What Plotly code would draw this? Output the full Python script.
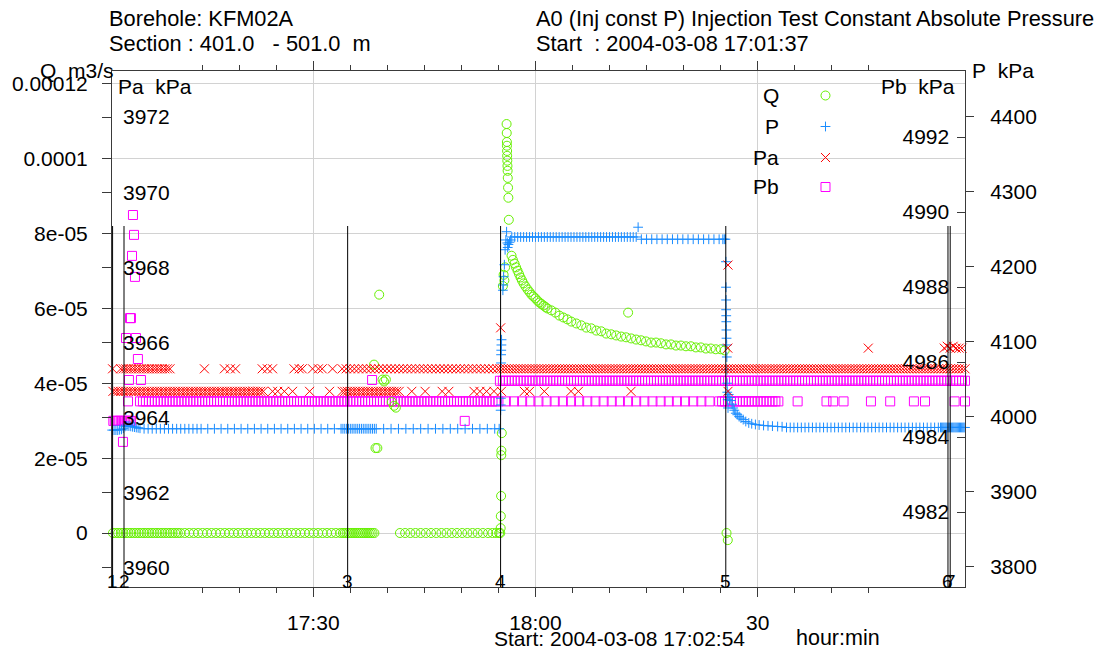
import plotly.graph_objects as go

# ------------------------------------------------------------------
# Data  (time = minutes after 17:00, 2004-03-08)
# ------------------------------------------------------------------
EVENT_TIMES = [2.9, 4.44, 34.64, 55.29, 85.7, 115.7, 116.0]
EVENT_NAMES = ["1", "2", "3", "4", "5", "6", "7"]

X_TICK_VALUES = [30, 60, 90]
X_TICK_TEXT = ["17:30", "18:00", "30"]
Q_TICK_VALUES = [0, 2e-5, 4e-5, 6e-5, 8e-5, 1e-4, 1.2e-4]
Q_TICK_TEXT = ["0", "2e-05", "4e-05", "6e-05", "8e-05", "0.0001", "0.00012"]
PA_TICK_VALUES = [3960, 3962, 3964, 3966, 3968, 3970, 3972]
PB_TICK_VALUES = [4982, 4984, 4986, 4988, 4990, 4992]
P_TICK_VALUES = [3800, 3900, 4000, 4100, 4200, 4300, 4400]

# shared sample times after start of period 4 (dense bands)
samples_after_4 = [55.2, 55.6, 56.0, 56.4, 56.8, 57.2, 57.6, 58.0, 58.4, 58.8, 59.2, 59.6, 60.0, 60.4, 60.8,
                   61.2, 61.6, 62.0, 62.4, 62.8, 63.2, 63.6, 64.0, 64.4, 64.8, 65.2, 65.6, 66.0, 66.4, 66.8,
                   67.2, 67.6, 68.0, 68.4, 68.8, 69.2, 69.6, 70.0, 70.4, 70.8, 71.2, 71.6, 72.0, 72.4, 72.8,
                   73.2, 73.6, 74.0, 74.4, 74.8, 75.2, 75.6, 76.0, 76.4, 76.8, 77.2, 77.6, 78.0, 78.4, 78.8,
                   79.2, 79.6, 80.0, 80.4, 80.8, 81.2, 81.6, 82.0, 82.4, 82.8, 83.2, 83.6, 84.0, 84.4, 84.8,
                   85.2, 85.6, 86.0, 86.4, 86.8, 87.2, 87.6, 88.0, 88.4, 88.8, 89.2, 89.6, 90.0, 90.4, 90.8,
                   91.2, 91.6, 92.0, 92.4, 92.8, 93.2, 93.6, 94.0, 94.4, 94.8, 95.2, 95.6, 96.0, 96.4, 96.8,
                   97.2, 97.6, 98.0, 98.4, 98.8, 99.2, 99.6, 100.0, 100.4, 100.8, 101.2, 101.6, 102.0, 102.4,
                   102.8, 103.2, 103.6, 104.0, 104.4, 104.8, 105.2, 105.6, 106.0, 106.4, 106.8, 107.2, 107.6,
                   108.0, 108.4, 108.8, 109.2, 109.6, 110.0, 110.4, 110.8, 111.2, 111.6, 112.0, 112.4, 112.8,
                   113.2, 113.6, 114.0, 114.4, 114.8, 115.2, 115.6, 116.0, 116.4, 116.8, 117.2, 117.6, 118.0]

# ---- Q (m3/s) ----
Q_ZERO = 0.0
q_zero_times = [2.6, 2.95, 3.3, 3.65, 4.0, 4.35, 4.7, 5.05, 5.4, 5.75, 6.1, 6.45, 6.8, 7.15, 7.5, 7.85, 8.2,
                8.55, 8.9, 9.25, 9.6, 9.95, 10.3, 10.65, 11.0, 11.35, 11.7, 12.05, 12.65, 13.25, 13.85, 14.45,
                15.05, 15.65, 16.25, 16.85, 17.45, 18.05, 18.65, 19.25, 19.85, 20.45, 21.05, 21.65, 22.25,
                22.85, 23.45, 24.05, 24.65, 25.25, 25.85, 26.45, 27.05, 27.65, 28.25, 28.85, 29.45, 30.05,
                30.65, 31.25, 31.85, 32.45, 33.05, 33.65, 34.0, 34.25, 34.5, 34.75, 35.0, 35.25, 35.5, 35.75,
                36.0, 36.25, 36.5, 36.75, 37.0, 37.25, 37.5, 37.75, 38.0, 38.25, 41.7, 42.4, 43.1, 43.8, 44.5,
                45.2, 45.9, 46.6, 47.3, 48.0, 48.7, 49.4, 50.1, 50.8, 51.5, 52.2, 52.9, 53.6, 54.2, 54.7, 55.1,
                55.25, 85.8]
q_event3_t = [38.2, 38.9, 39.35, 39.55, 39.8, 40.6, 40.9, 41.15, 38.4, 38.65]
q_event3_v = [4.5e-5, 6.37e-5, 4.1e-5, 4.05e-5, 4.1e-5, 3.5e-5, 3.4e-5, 3.35e-5, 2.27e-5, 2.27e-5]
q_event4_t = [55.30, 55.32, 55.36, 55.38, 55.40, 55.45, 55.6, 55.7, 55.8, 55.9,
              56.10, 56.12, 56.14, 56.15, 56.17, 56.18, 56.20, 56.22, 56.24, 56.26, 56.30, 56.34, 56.40]
q_event4_v = [1.3e-6, 4.5e-6, 9.9e-6, 2.08e-5, 2.2e-5, 2.67e-5, 6.6e-5, 6.9e-5, 6.75e-5, 7.1e-5,
              1.093e-4, 1.069e-4, 1.045e-4, 1.035e-4, 1.021e-4, 1.008e-4, 9.95e-5, 9.81e-5, 9.68e-5,
              9.49e-5, 9.23e-5, 8.96e-5, 8.37e-5]
q_decay_t = [56.77, 56.95, 57.18, 57.38, 57.58, 57.78, 57.98, 58.18, 58.39, 58.65, 58.93, 59.2, 59.46, 59.73,
             60.0, 60.27, 60.54, 60.81, 61.08, 61.35, 61.62, 62.15, 62.69, 63.23, 63.77, 64.31, 64.84, 65.52,
             66.19, 66.86, 67.54, 68.21, 68.88, 69.55, 70.23, 70.9, 71.57, 72.24, 72.92, 73.59, 74.26, 74.93,
             75.61, 76.28, 76.95, 77.63, 78.3, 78.97, 79.64, 80.32, 80.99, 81.66, 82.33, 83.01, 83.68, 84.35,
             85.03, 85.56]
q_decay_v = [7.41e-5, 7.3e-5, 7.2e-5, 7.1e-5, 7.01e-5, 6.92e-5, 6.83e-5, 6.75e-5, 6.67e-5, 6.59e-5, 6.51e-5,
             6.44e-5, 6.37e-5, 6.32e-5, 6.27e-5, 6.21e-5, 6.16e-5, 6.12e-5, 6.08e-5, 6.04e-5, 6.0e-5, 5.95e-5,
             5.89e-5, 5.81e-5, 5.76e-5, 5.71e-5, 5.65e-5, 5.6e-5, 5.55e-5, 5.49e-5, 5.47e-5, 5.41e-5, 5.39e-5,
             5.33e-5, 5.31e-5, 5.28e-5, 5.25e-5, 5.23e-5, 5.2e-5, 5.17e-5, 5.15e-5, 5.12e-5, 5.09e-5, 5.09e-5,
             5.07e-5, 5.04e-5, 5.04e-5, 5.01e-5, 5.01e-5, 4.99e-5, 4.99e-5, 4.96e-5, 4.96e-5, 4.93e-5,
             4.93e-5, 4.91e-5, 4.91e-5, 4.88e-5]
q_other_t = [72.51, 85.97]
q_other_v = [5.89e-5, -1.9e-6]

# ---- P (kPa) ----
p_early_t = [2.6, 2.85, 3.1, 3.35, 3.6, 3.85, 4.1, 4.35, 4.6, 4.85, 5.1, 5.35, 5.6, 5.85, 6.1, 6.35, 6.6]
p_early_v = [3982.5, 3982.5, 3982.5, 3982.5, 3982.5, 3983, 3983.5, 3985, 3987.5, 3988, 3988, 3987.5, 3987,
             3986.5, 3986, 3985.5, 3985]
P_BASE_BEFORE = 3984.3
p_base_before_t = [7.15, 7.7, 8.25, 8.8, 9.35, 9.9, 10.45, 11.0, 11.55, 12.1, 12.65, 13.2, 13.75, 14.3, 14.85,
                   15.75, 16.65, 17.55, 18.45, 19.35, 20.25, 21.15, 22.05, 22.95, 23.85, 24.75, 25.65, 26.55,
                   27.45, 28.35, 29.25, 30.15, 31.05, 31.95, 32.85, 33.75, 34.0, 34.25, 34.5, 34.75, 35.0,
                   35.25, 35.5, 35.75, 36.0, 36.25, 36.5, 36.75, 37.0, 37.25, 37.5, 37.75, 38.0, 38.25, 38.5,
                   39.5, 40.5, 41.5, 42.5, 43.5, 44.5, 45.5, 46.5, 47.5, 48.5, 49.5, 50.5, 51.5, 52.5, 53.5,
                   54.5, 55.1]
p_rise_t = [55.30, 55.31, 55.33, 55.35, 55.36, 55.38, 55.40, 55.42, 55.60, 55.65, 55.70, 55.80, 55.90, 56.00,
            56.10, 56.20, 56.25, 56.35, 56.50, 56.65]
p_rise_v = [4009, 4016, 4025, 4072, 4083, 4089, 4096, 4103, 4169, 4176, 4187, 4203, 4223, 4236, 4247, 4232,
            4226, 4230, 4233, 4236]
P_PLATEAU_1 = 4240
p_plateau_1_t = [56.8, 57.2, 57.6, 58.0, 58.4, 58.8, 59.2, 59.6, 60.0, 60.4, 60.8, 61.2, 61.6, 62.0, 62.4,
                 62.8, 63.2, 63.6, 64.0, 64.4, 64.8, 65.2, 65.6, 66.0, 66.4, 66.8, 67.2, 67.6, 68.0, 68.4,
                 68.8, 69.2, 69.6, 70.0, 70.4, 70.8, 71.2, 71.6, 72.0, 72.4, 72.8, 73.2, 73.6]
P_PLATEAU_2 = 4237
p_plateau_2_t = [74.3, 75.0, 75.7, 76.4, 77.1, 77.8, 78.5, 79.2, 79.9, 80.6, 81.3, 82.0, 82.7, 83.4, 84.1,
                 84.8, 85.3, 85.5, 85.65]
p_fall_t = [73.86, 85.72, 85.73, 85.74, 85.75, 85.76, 85.77, 85.78, 85.80, 85.82, 85.84, 85.86, 85.88, 85.90,
            85.95, 86.0, 86.1, 86.25, 86.4, 86.55, 86.7, 86.85, 87.05, 87.25, 87.5, 87.75, 88.05, 88.4, 88.8,
            89.2, 89.7, 90.2, 90.8, 91.4, 92.0, 92.7, 93.3]
p_fall_v = [4253, 4207, 4173, 4156, 4143, 4135, 4127, 4116, 4105, 4096, 4080, 4063, 4045, 4033, 4023, 4012,
            4030, 4026, 4022, 4017, 4012, 4009, 4005, 4003, 4000.5, 3998.5, 3996.5, 3994, 3992, 3991, 3990,
            3989.3, 3988.7, 3988.2, 3987.8, 3987.3, 3987]
P_BASE_AFTER = 3986
p_base_after_t = [93.9, 94.4, 94.9, 95.4, 95.9, 96.4, 96.9, 97.4, 97.9, 98.4, 98.9, 99.4, 99.9, 100.4, 100.9,
                  101.4, 101.9, 102.4, 102.9, 103.4, 103.9, 104.4, 104.9, 105.4, 105.9, 106.4, 106.9, 107.4,
                  107.9, 108.4, 108.9, 109.4, 109.9, 110.4, 110.9, 111.4, 111.9, 112.4, 112.9, 113.4, 113.9,
                  114.4, 114.7, 114.85, 115.0, 115.15, 115.3, 115.45, 115.6, 115.75, 115.9, 116.05, 116.2,
                  116.35, 116.5, 116.65, 116.8, 116.95, 117.1, 117.25, 117.4, 117.55, 117.7, 117.85, 118.0]

# ---- Pa (kPa) ----
PA_HIGH = 3965.3
pa_high_t = [2.9, 4.0, 4.35, 4.7, 5.05, 5.4, 5.75, 6.1, 6.45, 6.8, 7.15, 7.5, 7.85, 8.2, 8.55, 8.9, 9.25,
             9.6, 9.95, 10.3, 10.65, 15.3, 18.0, 18.8, 19.5, 23.1, 23.8, 24.5, 27.4, 28.1, 28.5, 29.9, 30.7,
             31.2, 32.6, 33.9, 34.45, 35.0, 35.55, 36.1, 36.65, 37.2, 37.75, 38.3, 38.85, 39.4, 39.95, 40.5,
             41.05, 41.6, 42.15, 42.7, 43.25, 43.8, 44.35, 44.9, 45.45, 46.0, 46.55, 47.1, 47.65, 48.2,
             48.75, 49.3, 49.85, 50.4, 50.95, 51.5, 52.05, 52.6, 53.15, 53.7, 54.25, 54.8]
PA_LOW = 3964.7
pa_low_t = [2.6, 2.95, 3.3, 3.65, 4.0, 4.35, 4.7, 5.05, 5.4, 5.75, 6.1, 6.45, 6.8, 7.15, 7.5, 7.85, 8.2, 8.55,
            8.9, 9.25, 9.6, 9.95, 10.3, 10.65, 11.0, 11.35, 11.7, 12.05, 12.4, 12.75, 13.1, 13.45, 13.8,
            14.15, 14.5, 14.85, 15.2, 15.55, 15.9, 16.25, 16.6, 16.95, 17.3, 17.65, 18.0, 18.35, 18.7, 19.05,
            19.4, 19.75, 20.1, 20.45, 20.8, 21.15, 21.5, 21.85, 22.2, 22.55, 22.9, 23.25, 24.5, 25.2, 26.1,
            27.2, 29.5, 32.2, 33.9, 34.25, 34.6, 34.95, 35.3, 35.65, 36.0, 36.35, 36.7, 37.05, 37.4, 37.75,
            38.1, 38.45, 38.8, 39.15, 39.5, 39.85, 40.2, 40.55, 40.9, 41.25, 41.6, 43.3, 45.1, 47.4, 48.3,
            51.7, 52.5, 53.4, 54.4, 55.4, 58.5, 59.2, 61.2, 64.8, 65.8, 72.9, 86.0]
pa_other_t = [55.3, 85.97, 86.0, 104.94, 115.2, 115.6, 116.0, 116.4, 116.8, 117.2, 117.6]
pa_other_v = [3966.39, 3965.85, 3968.06, 3965.85, 3965.85, 3965.9, 3965.85, 3965.9, 3965.85, 3965.85, 3965.85]

# ---- Pb (kPa) ----
PB_LOWER = 4984.95
pb_lower_t = [4.98, 6.6, 7.0, 7.4, 7.8, 8.2, 8.6, 9.0, 9.4, 9.8, 10.2, 10.6, 11.0, 11.4, 11.8, 12.2, 12.6,
              13.0, 13.4, 13.8, 14.2, 14.6, 15.0, 15.4, 15.8, 16.2, 16.6, 17.0, 17.4, 17.8, 18.2, 18.6, 19.0,
              19.4, 19.8, 20.2, 20.6, 21.0, 21.4, 21.8, 22.2, 22.6, 23.0, 23.4, 23.8, 24.2, 24.6, 25.0, 25.4,
              25.8, 26.2, 26.6, 27.0, 27.4, 27.8, 28.2, 28.6, 29.0, 29.4, 29.8, 30.2, 30.6, 31.0, 31.4, 31.8,
              32.2, 32.6, 33.0, 33.4, 33.8, 34.2, 34.6, 35.0, 35.4, 35.8, 36.2, 36.6, 37.0, 37.4, 37.8, 38.2,
              38.6, 39.0, 39.4, 39.8, 40.2, 40.6, 41.0, 41.4, 41.8, 42.2, 42.6, 43.0, 43.4, 43.8, 44.2, 44.6,
              45.0, 45.4, 45.8, 46.2, 46.6, 47.0, 47.4, 47.8, 48.2, 48.6, 49.0, 49.4, 49.8, 50.2, 50.6, 51.0,
              51.4, 51.8, 52.2, 52.6, 53.0, 53.4, 53.8, 54.2, 54.6, 55.0, 56.0, 57.1, 58.2, 59.3, 60.4, 61.5,
              62.6, 63.7, 64.8, 65.9, 67.0, 68.1, 69.2, 70.3, 71.4, 72.5, 73.6, 74.7, 75.8, 76.9, 78.0, 79.1,
              80.2, 81.3, 82.4, 83.5, 84.8, 85.2, 85.6, 86.0, 86.4, 86.8, 87.2, 87.6, 88.0, 88.4, 88.8, 89.2,
              89.6, 90.0, 90.4, 90.8, 91.2, 91.6, 92.0, 92.4, 92.8, 95.4, 99.3, 100.2, 101.6, 105.3, 107.9,
              111.1, 112.6, 116.6, 118.0]
PB_UPPER = 4985.5
PB_START = 4984.43
pb_start_t = [2.6, 2.8, 3.0, 3.2, 3.4, 3.6, 3.8, 4.0, 4.2, 4.4, 4.6, 4.8, 5.0, 5.2, 5.4, 50.45]
pb_other_t = [5.65, 5.79, 5.52, 5.92, 5.38, 5.25, 4.71, 6.05, 6.32, 5.11, 6.73, 4.30, 37.94]
pb_other_v = [4989.92, 4989.39, 4988.83, 4988.27, 4987.17, 4987.17, 4986.64, 4986.64, 4986.08, 4985.52,
              4985.52, 4983.87, 4985.52]

# ------------------------------------------------------------------
# Layout constants
# ------------------------------------------------------------------
FONT = "Liberation Sans, Arial, Helvetica, sans-serif"
FS = 21
FS_TEXT = 21.8
AXIS = "#3a3a3a"
GRID = "#d2d2d2"
C_Q, C_P, C_PA, C_PB = "#66f000", "#1a8cff", "#ff0000", "#ff00ff"

L, R, T, B = 109, 134, 71, 70
WIDTH, HEIGHT = 1099, 657
PW, PH = WIDTH - L - R, HEIGHT - T - B

X_RANGE = [2.82, 118.0]
Q_RANGE = [-1.443e-5, 1.2347e-4]
PA_RANGE = [3959.494, 3973.224]
PB_RANGE = [4980.0, 4993.76]
P_RANGE = [3773.3, 4461.3]


def px_x(px):
    return (px - L) / PW


def px_y(py):
    return (T + PH - py) / PH


def data_x(px):
    return X_RANGE[0] + px_x(px) * (X_RANGE[1] - X_RANGE[0])


def data_y(py, rng):
    return rng[0] + px_y(py) * (rng[1] - rng[0])


def build(flat, explicit):
    xs, ys = [], []
    for level, times in flat:
        xs += list(times)
        ys += [level] * len(times)
    for times, vals in explicit:
        xs += list(times)
        ys += list(vals)
    return xs, ys


def mk(symbol, size, color):
    return dict(symbol=symbol, size=size, color=color, line=dict(width=1, color=color))


q_x, q_y = build([(Q_ZERO, q_zero_times)],
                 [(q_event3_t, q_event3_v), (q_event4_t, q_event4_v), (q_decay_t, q_decay_v),
                  (q_other_t, q_other_v)])
p_x, p_y = build([(P_BASE_BEFORE, p_base_before_t), (P_PLATEAU_1, p_plateau_1_t),
                  (P_PLATEAU_2, p_plateau_2_t), (P_BASE_AFTER, p_base_after_t)],
                 [(p_early_t, p_early_v), (p_rise_t, p_rise_v), (p_fall_t, p_fall_v)])
pa_x, pa_y = build([(PA_HIGH, pa_high_t), (PA_HIGH, samples_after_4), (PA_LOW, pa_low_t)],
                   [(pa_other_t, pa_other_v)])
pb_x, pb_y = build([(PB_LOWER, pb_lower_t), (PB_UPPER, samples_after_4), (PB_START, pb_start_t)],
                   [(pb_other_t, pb_other_v)])

M_Q = mk("circle-open", 9, C_Q)
M_P = mk("cross-thin-open", 7, C_P)
M_PA = mk("x-thin-open", 9, C_PA)
M_PB = mk("square-open", 9, C_PB)

fig = go.Figure()
# drawing order: Pb (y), Q (y2), P (y3), Pa (y4)
fig.add_trace(go.Scatter(x=pb_x, y=pb_y, mode="markers", marker=M_PB, yaxis="y", name="Pb",
                         cliponaxis=False, hoverinfo="skip"))
fig.add_trace(go.Scatter(x=q_x, y=q_y, mode="markers", marker=M_Q, yaxis="y2", name="Q",
                         cliponaxis=False, hoverinfo="skip"))
fig.add_trace(go.Scatter(x=p_x, y=p_y, mode="markers", marker=M_P, yaxis="y3", name="P",
                         cliponaxis=False, hoverinfo="skip"))
fig.add_trace(go.Scatter(x=pa_x, y=pa_y, mode="markers", marker=M_PA, yaxis="y4", name="Pa",
                         cliponaxis=False, hoverinfo="skip"))

# custom legend (text left, symbol right)
LEGEND_NAMES = ["Q", "P", "Pa", "Pb"]
LEGEND_ROWS = [95.5, 126.5, 157.5, 187.0]
LEGEND_TEXT_RIGHT = 779
LEGEND_SYMBOL_X = 825
legend_specs = [(M_Q, "y2", Q_RANGE), (M_P, "y3", P_RANGE), (M_PA, "y4", PA_RANGE), (M_PB, "y", PB_RANGE)]
for (marker, yax, rng), row in zip(legend_specs, LEGEND_ROWS):
    fig.add_trace(go.Scatter(x=[data_x(LEGEND_SYMBOL_X)], y=[data_y(row, rng)], mode="markers",
                             marker=marker, yaxis=yax, showlegend=False, hoverinfo="skip",
                             cliponaxis=False))

shapes = [dict(type="rect", xref="paper", yref="paper", x0=px_x(755), x1=px_x(871),
               y0=px_y(203), y1=px_y(77), fillcolor="white", line=dict(width=0), layer="between")]
for t in EVENT_TIMES:
    shapes.append(dict(type="line", xref="x", yref="paper", x0=t, x1=t, y0=0, y1=px_y(226),
                       line=dict(color="black", width=1), layer="above"))

annotations = []


def text(s, px, py, anchor="left", size=FS_TEXT):
    # small correction for the annotation's inner padding
    px = px - 5 if anchor == "left" else px + 1
    annotations.append(dict(text=s, xref="paper", yref="paper", x=px_x(px), y=px_y(py),
                            xanchor=anchor, yanchor="middle", showarrow=False,
                            font=dict(family=FONT, size=size, color="black")))


NB = "\u00a0"
text("Borehole: KFM02A", 109, 18)
text("Section : 401.0" + NB * 3 + "- 501.0" + NB * 2 + "m", 109, 44)
text("A0 (Inj const P) Injection Test Constant Absolute Pressure", 537, 18)
text("Start" + NB * 2 + ": 2004-03-08 17:01:37", 537, 44)
text("Q" + NB * 2 + "m3/s", 40, 70, size=FS)
text("Pa" + NB * 2 + "kPa", 118, 86, size=FS)
text("Pb" + NB * 2 + "kPa", 956, 86, anchor="right", size=FS)
text("P" + NB * 2 + "kPa", 975, 70, size=FS)
text("Start: 2004-03-08 17:02:54", 495, 638, size=FS)
text("hour:min", 798, 638, size=21.5)
for name, row in zip(LEGEND_NAMES, LEGEND_ROWS):
    text(name, LEGEND_TEXT_RIGHT, row, anchor="right", size=FS)
for t, name in zip(EVENT_TIMES, EVENT_NAMES):
    annotations.append(dict(text=name, xref="x", yref="paper", x=t, y=0, yanchor="middle", yshift=6,
                            xanchor="center", showarrow=False,
                            font=dict(family=FONT, size=19, color="black")))

tickfont = dict(family=FONT, size=FS, color="black")
fig.update_layout(
    width=WIDTH, height=HEIGHT,
    margin=dict(l=L, r=R, t=T, b=B, pad=0),
    paper_bgcolor="white", plot_bgcolor="white",
    showlegend=False,
    font=dict(family=FONT, size=FS, color="black"),
    shapes=shapes, annotations=annotations,
    xaxis=dict(range=X_RANGE, tickmode="array", tickvals=X_TICK_VALUES, ticktext=X_TICK_TEXT,
               ticks="outside", ticklen=9, tickwidth=1, tickcolor=AXIS, tickfont=tickfont,
               showline=True, linecolor=AXIS, linewidth=1, mirror="ticks",
               showgrid=True, gridcolor=GRID, gridwidth=1.3, zeroline=False, ticklabelstandoff=8,
               minor=dict(tickmode="linear", tick0=0, dtick=5, ticks="outside", ticklen=5,
                          tickcolor=AXIS, showgrid=False)),
    yaxis=dict(range=PB_RANGE, side="right", tickmode="array", tickvals=PB_TICK_VALUES,
               ticks="inside", ticklen=8, tickcolor=AXIS, ticklabelposition="inside", tickfont=tickfont,
               showgrid=False, zeroline=False, showline=False, ticklabelstandoff=9),
    yaxis2=dict(range=Q_RANGE, overlaying="y", anchor="x", side="left", tickmode="array",
                tickvals=Q_TICK_VALUES, ticktext=Q_TICK_TEXT, ticks="outside", ticklen=9, tickcolor=AXIS,
                tickfont=tickfont, showline=True, linecolor=AXIS, linewidth=1,
                showgrid=True, gridcolor=GRID, gridwidth=1.3, zeroline=False, ticklabelstandoff=10),
    yaxis3=dict(range=P_RANGE, overlaying="y", anchor="x", side="right", tickmode="array",
                tickvals=P_TICK_VALUES, ticks="outside", ticklen=8, tickcolor=AXIS, tickfont=tickfont,
                showline=True, linecolor=AXIS, linewidth=1, showgrid=False, zeroline=False,
                ticklabelstandoff=12),
    yaxis4=dict(range=PA_RANGE, overlaying="y", anchor="x", side="left", tickmode="array",
                tickvals=PA_TICK_VALUES, ticks="outside", ticklen=9, tickcolor=AXIS, tickfont=tickfont,
                ticklabelposition="inside", showgrid=False, zeroline=False, showline=False,
                ticklabelstandoff=8),
)

fig.write_html("out.html")
